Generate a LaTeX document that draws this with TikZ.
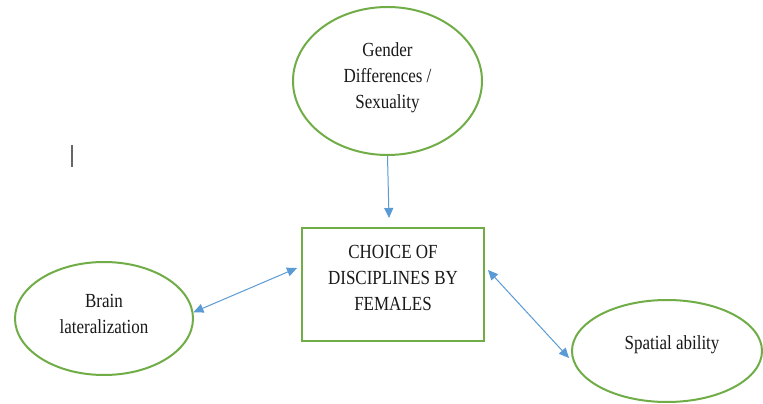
\documentclass[tikz,border=0pt]{standalone}
\usepackage{fontspec}
\setmainfont{Liberation Serif}[FakeStretch=0.85]
\usetikzlibrary{shapes.geometric,arrows.meta,calc}
\definecolor{ogreen}{HTML}{70AD47}
\definecolor{oblue}{HTML}{5B9BD5}
\tikzset{
  oval/.style={ellipse, draw=ogreen, line width=2pt, inner sep=0pt},
  boxnode/.style={rectangle, draw=ogreen, line width=2pt, inner sep=0pt},
  lab/.style={align=center, font=\fontsize{20}{26}\selectfont, text=black!90},
  conn/.style={draw=oblue, line width=1pt, -{Triangle[length=10pt,width=9pt]}},
  dconn/.style={draw=oblue, line width=1pt, {Triangle[length=10pt,width=9pt]}-{Triangle[length=10pt,width=9pt]}}
}
\begin{document}
\begin{tikzpicture}[x=1pt,y=1pt]
\useasboundingbox (0,0) rectangle (763,404);
\fill[white] (0,0) rectangle (763,404);
\node[oval, minimum width=189pt, minimum height=148pt,
  label={[lab,yshift=3pt]center:Gender\\Differences /\\Sexuality}] (te) at (387.5,323) {};
\node[boxnode, minimum width=182pt, minimum height=113pt,
  label={[lab,yshift=7pt]center:CHOICE OF\\DISCIPLINES BY\\FEMALES}] (rect) at (393,119.5) {};
\node[oval, minimum width=178pt, minimum height=113pt,
  label={[lab,yshift=5pt]center:Brain\\lateralization}] (bl) at (104,85.5) {};
\node[oval, minimum width=190pt, minimum height=102pt,
  label={[lab,yshift=6pt,xshift=5pt]center:Spatial ability}] (sp) at (667,53) {};
\draw[conn] (te.south) -- ($(rect.north)+(-4pt,9pt)$);
\draw[dconn] (bl.4) -- ($(rect.west)+(-4pt,16.5pt)$);
\draw[dconn] ($(rect.east)+(3pt,14.5pt)$) -- ($(sp.west)+(-2pt,-7pt)$);
\draw[black!60, line width=1.3pt] (72,259) -- (72,237);
\end{tikzpicture}
\end{document}
